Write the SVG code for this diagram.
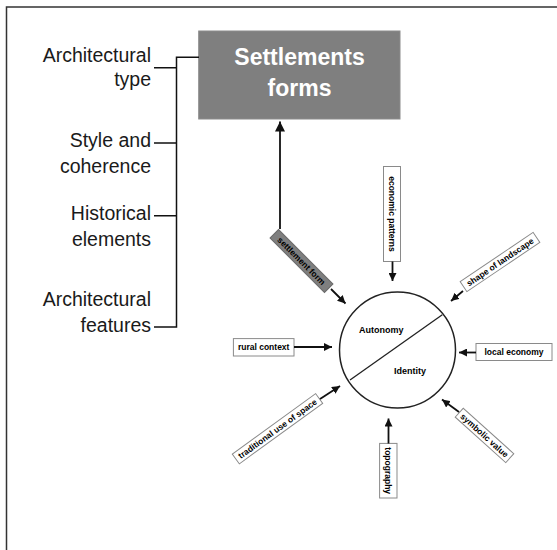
<svg xmlns="http://www.w3.org/2000/svg" width="557" height="550" viewBox="0 0 557 550">
<style>
.bg{fill:#fff}
.frame{fill:none;stroke:#333;stroke-width:1.5}
.side{font-family:"Liberation Sans",Arial,sans-serif;font-size:19.5px;fill:#1a1a1a;text-anchor:end}
.title{font-family:"Liberation Sans",Arial,sans-serif;font-size:23px;font-weight:bold;fill:#fff;text-anchor:middle}
.ln{fill:none;stroke:#111;stroke-width:1.5}
.arr{fill:none;stroke:#111;stroke-width:1.8}
.lab{fill:#fff;stroke:#8a8a8a;stroke-width:1}
.labg{fill:#7f7f7f;stroke:#6a6a6a;stroke-width:1}
.lt{font-family:"Liberation Sans",Arial,sans-serif;font-size:8.5px;font-weight:bold;fill:#000;text-anchor:middle}
.ct{font-family:"Liberation Sans",Arial,sans-serif;font-size:9px;font-weight:bold;fill:#000}
</style>
<defs>
<marker id="ah" markerUnits="userSpaceOnUse" markerWidth="9" markerHeight="8" refX="8" refY="4" orient="auto"><path d="M0,0 L8,4 L0,8 Z" fill="#111"/></marker>
<marker id="ahb" markerUnits="userSpaceOnUse" markerWidth="11" markerHeight="10" refX="10" refY="5" orient="auto"><path d="M0,0 L10,5 L0,10 Z" fill="#111"/></marker>
</defs>
<rect class="bg" x="0" y="0" width="557" height="550"/>
<rect class="frame" x="6.5" y="7" width="580" height="580"/>

<g id="aspects">
<text class="side" x="151" y="61.5">Architectural</text>
<text class="side" x="151" y="86">type</text>
<text class="side" x="151" y="147">Style and</text>
<text class="side" x="151" y="172.5">coherence</text>
<text class="side" x="151" y="220">Historical</text>
<text class="side" x="151" y="245.5">elements</text>
<text class="side" x="151" y="306">Architectural</text>
<text class="side" x="151" y="331.5">features</text>
</g>

<g id="settlements-forms">
<rect x="198.7" y="31" width="201.3" height="88" fill="#7f7f7f" stroke="#8c8c8c" stroke-width="1"/>
<text class="title" x="299.5" y="65">Settlements</text>
<text class="title" x="299.5" y="96">forms</text>
</g>

<g id="circle">
<circle cx="397.5" cy="350" r="58" fill="#fff" stroke="#222" stroke-width="1.5"/>
<line x1="350" y1="380" x2="442.3" y2="314.7" stroke="#222" stroke-width="1.3"/>
<text class="ct" x="359" y="333">Autonomy</text>
<text class="ct" x="394" y="374">Identity</text>
</g>

<g id="label-settlement-form" transform="translate(301.5,261) rotate(45)">
<rect class="labg" x="-38.5" y="-6" width="77" height="12"/>
<text class="lt" x="0" y="3">settlement form</text>
</g>
<g id="label-economic" transform="translate(392,214) rotate(90)">
<rect class="lab" x="-47.5" y="-8.5" width="95" height="17"/>
<text class="lt" x="0" y="3">economic patterns</text>
</g>
<g id="label-landscape" transform="translate(500,262) rotate(-34)">
<rect class="lab" x="-44" y="-6" width="88" height="12"/>
<text class="lt" x="0" y="3">shape of landscape</text>
</g>
<g id="label-local-economy">
<rect class="lab" x="476" y="343.5" width="76" height="17"/>
<text class="lt" x="514" y="355">local economy</text>
</g>
<g id="label-symbolic" transform="translate(484.5,435.4) rotate(42)">
<rect class="lab" x="-34" y="-6" width="68" height="12"/>
<text class="lt" x="0" y="3">symbolic value</text>
</g>
<g id="label-topography" transform="translate(388.3,470.7) rotate(90)">
<rect class="lab" x="-27.3" y="-8.7" width="54.6" height="17.4"/>
<text class="lt" x="0" y="3">topography</text>
</g>
<g id="label-traditional" transform="translate(277.5,428.7) rotate(-36)">
<rect class="lab" x="-51.5" y="-6" width="103" height="12"/>
<text class="lt" x="0" y="3">traditional use of space</text>
</g>
<g id="label-rural">
<rect class="lab" x="233.4" y="338.6" width="60.6" height="17.4"/>
<text class="lt" x="263.7" y="350.3">rural context</text>
</g>

<g id="connectors">
<path class="ln" d="M199,57.2 H176.5 V327 H154 M154,67.7 H176.5 M154,143 H176.5 M154,215.8 H176.5"/>
<line class="arr" x1="280" y1="229" x2="280" y2="121.5" marker-end="url(#ahb)"/>
<line class="arr" x1="331" y1="289" x2="345.5" y2="303.5" marker-end="url(#ah)"/>
<line class="arr" x1="392.5" y1="261.5" x2="392.5" y2="281" marker-end="url(#ah)"/>
<line class="arr" x1="463" y1="291" x2="451" y2="301" marker-end="url(#ah)"/>
<line class="arr" x1="476" y1="352.5" x2="459" y2="352.5" marker-end="url(#ah)"/>
<line class="arr" x1="459" y1="412" x2="442" y2="399.5" marker-end="url(#ah)"/>
<line class="arr" x1="388.5" y1="443.5" x2="388.5" y2="418.5" marker-end="url(#ah)"/>
<line class="arr" x1="320" y1="399" x2="340" y2="386" marker-end="url(#ah)"/>
<line class="arr" x1="294" y1="347" x2="332" y2="347" marker-end="url(#ah)"/>
</g>
</svg>
